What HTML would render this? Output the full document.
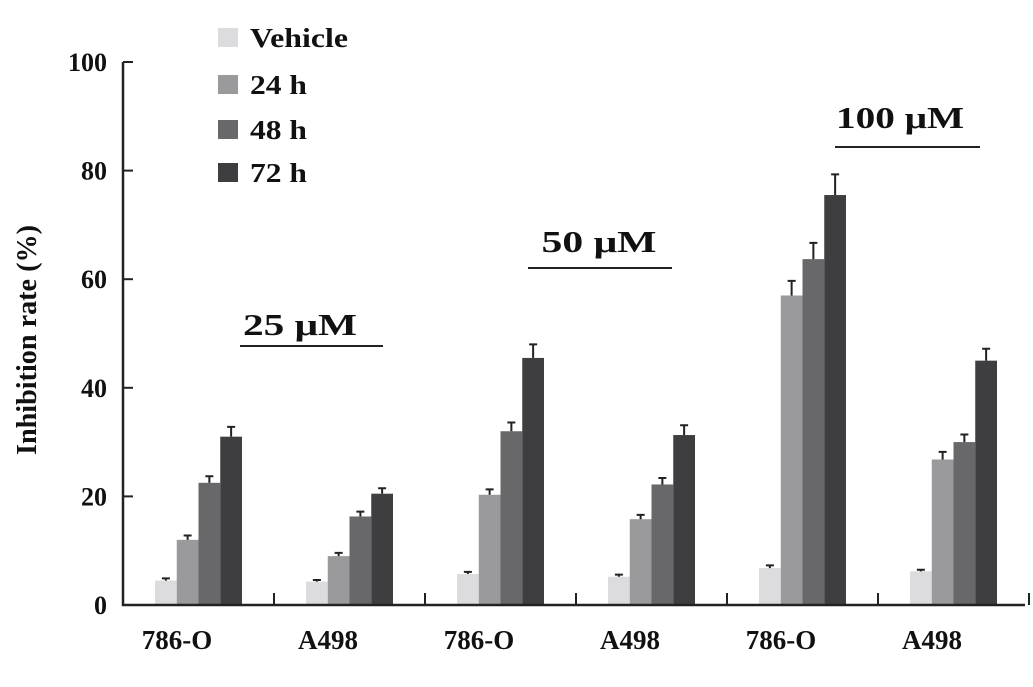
<!DOCTYPE html>
<html><head><meta charset="utf-8"><style>
body{margin:0;background:#fff}
svg text{font-family:"Liberation Serif",serif;font-weight:bold;fill:#111}
</style></head><body>
<svg id="chart" width="1033" height="682" viewBox="0 0 1033 682" xmlns="http://www.w3.org/2000/svg"></svg>
<script>
const categories=["786-O","A498","786-O","A498","786-O","A498"];
const seriesNames=["Vehicle","24 h","48 h","72 h"];
const vehicle=[4.5,4.3,5.7,5.2,6.8,6.2];
const h24=[12,9,20.3,15.8,57,26.8];
const h48=[22.5,16.3,32,22.2,63.7,30];
const h72=[31,20.5,45.5,31.3,75.5,45];
const errVehicle=[0.4,0.3,0.4,0.4,0.5,0.3];
const err24=[0.8,0.6,1.0,0.8,2.7,1.4];
const err48=[1.2,0.9,1.6,1.2,3.0,1.4];
const err72=[1.8,1.0,2.5,1.8,3.8,2.2];
const yTicks=[0,20,40,60,80,100];
const concLabels=["25 μM","50 μM","100 μM"];
const NS="http://www.w3.org/2000/svg";
const svg=document.getElementById("chart");
const colors=["#dcdcdf","#9a9a9c","#68686a","#3e3e40"];
const x0=123,y0=605,pxPerUnit=5.43,groupW=151,barW=21.75,barOff=32;
const yS=v=>y0-v*pxPerUnit;
const xGroup=i=>x0+groupW*i;
function el(t,a,txt){const e=document.createElementNS(NS,t);for(const k in a)e.setAttribute(k,a[k]);if(txt!==undefined)e.textContent=txt;svg.appendChild(e);return e;}
const series=[vehicle,h24,h48,h72],errs=[errVehicle,err24,err48,err72];
categories.forEach((c,i)=>{
 series.forEach((s,j)=>{
  const x=xGroup(i)+barOff+j*barW;
  const b=el("rect",{x:x,y:yS(s[i]),width:barW,height:s[i]*pxPerUnit,fill:colors[j]});
  
  
  const cx=x+barW/2,ty=yS(s[i]+errs[j][i]);
  const e=el("path",{d:`M${cx},${yS(s[i])}V${ty}M${cx-4},${ty}H${cx+4}`,stroke:"#222","stroke-width":2,fill:"none"});
  
  
 });
 const t=el("text",{x:xGroup(i)+54,y:649,"text-anchor":"middle","font-size":27},c);
 
 
 const tk=el("line",{x1:xGroup(i+1),x2:xGroup(i+1),y1:y0,y2:y0-12,stroke:"#222","stroke-width":2});
 
 
});
const ax=el("path",{d:`M${x0},${yS(100)}V${y0}H1025`,stroke:"#222","stroke-width":2.5,fill:"none"});


yTicks.forEach(v=>{
 const l=el("line",{x1:x0,x2:x0+10,y1:yS(v),y2:yS(v),stroke:"#222","stroke-width":2});
 
 
 const t=el("text",{x:107,y:yS(v)+9,"text-anchor":"end","font-size":26},v);
 
 
});
const yt=el("text",{x:0,y:0,"text-anchor":"middle","font-size":28,textLength:230,lengthAdjust:"spacingAndGlyphs",transform:"translate(36,340) rotate(-90)"},"Inhibition rate (%)");


const concPos=[[240,383,346,300,335,114],[528,672,268,599,252,115],[835,980,147,900,128,128]];
concLabels.forEach((c,k)=>{
 const p=concPos[k];
 const l=el("line",{x1:p[0],x2:p[1],y1:p[2],y2:p[2],stroke:"#222","stroke-width":2});
 
 
 const t=el("text",{x:p[3],y:p[4],"text-anchor":"middle","font-size":31,textLength:p[5],lengthAdjust:"spacingAndGlyphs"},c);
 
 
});
const legY=[28,75,120,163];
const legW=[98,57,57,57];
seriesNames.forEach((n,j)=>{
 const r=el("rect",{x:218,y:legY[j],width:20,height:19,fill:colors[j]});
 
 
 const t=el("text",{x:250,y:legY[j]+19,"font-size":27,textLength:legW[j],lengthAdjust:"spacingAndGlyphs"},n);
 
 
});
</script>
</body></html>
